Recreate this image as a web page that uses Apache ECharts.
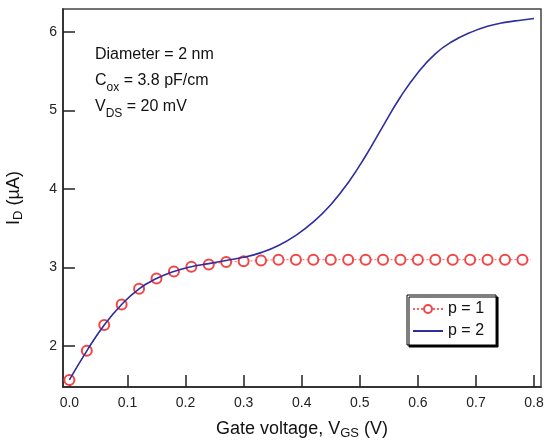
<!DOCTYPE html>
<html>
<head>
<meta charset="utf-8">
<script src="https://cdn.jsdelivr.net/npm/echarts@6/dist/echarts.min.js"></script>
<style>
  html, body { margin: 0; padding: 0; background: #fff; }
  #main { width: 550px; height: 441px; }
</style>
</head>
<body>
<div id="main"></div>
<script type="text/javascript">
    // data
    var p1X = [0, 0.03, 0.06, 0.09, 0.12, 0.15, 0.18, 0.21, 0.24, 0.27, 0.30, 0.33, 0.36, 0.39,
               0.42, 0.45, 0.48, 0.51, 0.54, 0.57, 0.60, 0.63, 0.66, 0.69, 0.72, 0.75, 0.78, 0.795];
    var p1Y = [1.57, 1.94, 2.27, 2.53, 2.73, 2.86, 2.95, 3.01, 3.04, 3.07, 3.08, 3.09, 3.10, 3.10,
               3.10, 3.10, 3.10, 3.10, 3.10, 3.10, 3.10, 3.10, 3.10, 3.10, 3.10, 3.10, 3.10, 3.10];
    var p2X = [0, 0.03, 0.06, 0.09, 0.12, 0.15, 0.18, 0.21, 0.24, 0.27, 0.30, 0.33, 0.36, 0.39,
               0.42, 0.45, 0.48, 0.51, 0.54, 0.57, 0.60, 0.63, 0.66, 0.69, 0.72, 0.75, 0.78, 0.80];
    var p2Y = [1.57, 1.94, 2.27, 2.53, 2.73, 2.86, 2.95, 3.01, 3.05, 3.09, 3.13, 3.19, 3.28, 3.41,
               3.58, 3.80, 4.08, 4.42, 4.80, 5.17, 5.48, 5.72, 5.88, 5.99, 6.07, 6.12, 6.15, 6.17];
    var xTicks = [0, 0.1, 0.2, 0.3, 0.4, 0.5, 0.6, 0.7, 0.8];
    var yTicks = [2, 3, 4, 5, 6];

    function pairs(xs, ys) {
        var out = [];
        for (var i = 0; i < xs.length; i++) out.push([xs[i], ys[i]]);
        return out;
    }

    var font = '"Liberation Sans", Arial, sans-serif';
    var red = '#f24646';
    var blue = '#2e2e9e';
    var myChart = echarts.init(document.getElementById('main'));

    var p1Data = pairs(p1X, p1Y);
    // last point only carries the dotted line to the edge, no marker
    p1Data[p1Data.length - 1] = { value: p1Data[p1Data.length - 1], symbol: 'none' };

    var option = {
        animation: false,
        backgroundColor: '#fff',
        textStyle: { fontFamily: font },
        grid: {
            left: 63, top: 9, right: 9, bottom: 54,
            containLabel: false,
            outerBoundsMode: 'none',
            show: true, borderColor: '#444', borderWidth: 1.5
        },
        graphic: [
            {
                type: 'text', left: 95, top: 42,
                style: {
                    text: 'Diameter = 2 nm\nC{sub|ox} = 3.8 pF/cm\nV{sub|DS} = 20 mV',
                    font: '16px ' + font, fill: '#111', lineHeight: 26,
                    rich: { sub: { fontSize: 12, verticalAlign: 'bottom', padding: [8, 0, 0, 0], lineHeight: 26 } }
                }
            }
        ],
        legend: {
            orient: 'vertical',
            left: 407, top: 295,
            itemWidth: 30, itemHeight: 10, itemGap: 6,
            padding: [6, 12, 6, 5],
            backgroundColor: '#fff',
            borderColor: '#000', borderWidth: 1,
            shadowColor: '#000', shadowBlur: 0, shadowOffsetX: 2, shadowOffsetY: 2,
            textStyle: { fontSize: 16, color: '#111', fontFamily: font },
            data: [
                { name: 'p = 1' },
                { name: 'p = 2', itemStyle: { opacity: 0 } }
            ]
        },
        xAxis: {
            type: 'value',
            min: -0.011, max: 0.812,
            name: 'Gate voltage, V{sub|GS} (V)',
            nameLocation: 'middle', nameGap: 31,
            nameTextStyle: {
                fontSize: 18, color: '#111', fontFamily: font,
                rich: { sub: { fontSize: 13, padding: [9, 0, 0, 0] } }
            },
            axisLine: { show: true, onZero: false, lineStyle: { color: '#222', width: 1.5 } },
            axisTick: { show: true, inside: true, length: 12, customValues: xTicks, lineStyle: { color: '#222', width: 1.5 } },
            axisLabel: {
                customValues: xTicks, margin: 9, fontSize: 14, color: '#222',
                formatter: function (v) { return v.toFixed(1); }
            },
            splitLine: { show: false }
        },
        yAxis: {
            type: 'value',
            min: 1.48, max: 6.29,
            name: 'I{sub|D} (\u00b5A)',
            nameLocation: 'middle', nameGap: 38, nameRotate: 90,
            nameTextStyle: {
                fontSize: 18, color: '#111', fontFamily: font,
                rich: { sub: { fontSize: 13, padding: [9, 0, 0, 0] } }
            },
            axisLine: { show: true, onZero: false, lineStyle: { color: '#222', width: 1.5 } },
            axisTick: { show: true, inside: true, length: 12, customValues: yTicks, lineStyle: { color: '#222', width: 1.5 } },
            axisLabel: { customValues: yTicks, margin: 6, fontSize: 14, color: '#222' },
            splitLine: { show: false }
        },
        series: [
            {
                name: 'p = 1',
                type: 'line',
                data: p1Data,
                symbol: 'emptyCircle',
                symbolSize: 10,
                showAllSymbol: true,
                itemStyle: { color: red, borderColor: red, borderWidth: 1.2 },
                lineStyle: { color: red, width: 1, type: [2, 2], opacity: 0.85 },
                z: 2
            },
            {
                name: 'p = 2',
                type: 'line',
                data: pairs(p2X, p2Y),
                smooth: 0.5,
                showSymbol: false,
                symbol: 'none',
                itemStyle: { color: blue },
                lineStyle: { color: blue, width: 1.6 },
                z: 5
            }
        ]
    };
    myChart.setOption(option);
</script>
</body>
</html>
